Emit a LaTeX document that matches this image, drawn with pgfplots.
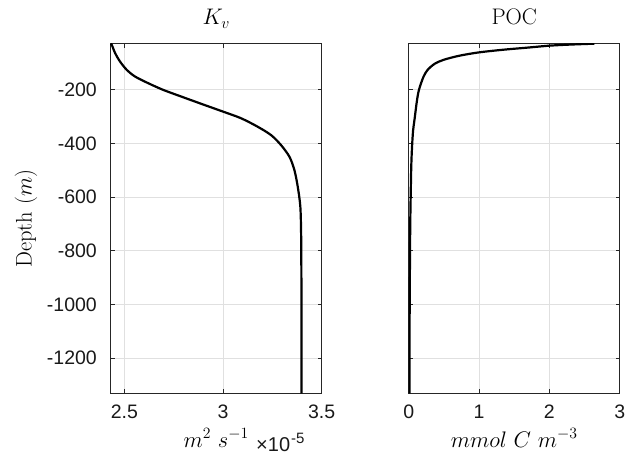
\RequirePackage{fix-cm}
\documentclass[border=0pt]{standalone}
\usepackage{fontspec}
\usepackage{pgfplots}
\pgfplotsset{compat=1.18}
\newfontfamily\helv{Liberation Sans}
\begin{document}
\begin{tikzpicture}
\path[use as bounding box] (0pt,0pt) rectangle (627pt,457pt);
\pgfplotsset{
  mystyle/.style={
    scale only axis, width=211pt, height=349.5pt,
    anchor=south west,
    axis line style={black!85, line width=0.8pt},
    grid=major, grid style={black!12, line width=0.8pt},
    major tick style={black!85, line width=0.8pt},
    major tick length=4pt,
    tick align=inside,
    tick pos=both,
    ticklabel style={font=\helv\fontsize{19.5}{22}\selectfont, text=black!90},
    xticklabel style={anchor=center, yshift=-18.4pt},
    yticklabel style={anchor=east, inner sep=0pt, xshift=-13.7pt},
    ymin=-1332, ymax=-28,
    ytick={-1200,-1000,-800,-600,-400,-200},
    title style={font=\fontsize{22.5}{26}\selectfont, at={(axis description cs:0.5,1)}, anchor=base, yshift=13pt},
    xlabel style={font=\fontsize{22.5}{26}\selectfont, at={(axis description cs:0.5,0)}, anchor=center, yshift=-44.7pt},
    ylabel style={font=\fontsize{22.5}{26}\selectfont, at={(axis description cs:-0.401,0.5)}, anchor=center},
  }
}
\begin{axis}[mystyle, at={(110.7pt,63.7pt)}, xmin=2.431, xmax=3.5,
  xtick={2.5,3,3.5}, xticklabels={2.5,3,3.5},
  yticklabels={{-1200},{-1000},{-800},{-600},{-400},{-200}},
  ylabel={Depth $(m)$}, xlabel={$m^2\ s^{-1}$}, title={$K_v$}, clip=false]
\addplot[black, line width=2.2pt, smooth] coordinates {
(2.431,-28) (2.436,-31) (2.453,-62) (2.478,-94) (2.512,-125) (2.554,-150)
(2.621,-175) (2.697,-200) (2.789,-225) (2.890,-252) (3.000,-281) (3.092,-306)
(3.177,-338) (3.244,-369) (3.294,-406) (3.337,-450) (3.362,-500) (3.379,-563)
(3.392,-638) (3.396,-750) (3.397,-875) (3.398,-1100) (3.398,-1332)};
\node[anchor=base west, inner sep=0pt, text=black!90]
  at ([xshift=145.3pt,yshift=-58.7pt]rel axis cs:0,0)
  {\helv\fontsize{20}{22}\selectfont ×10\kern1pt\raisebox{8pt}{\fontsize{15}{17}\selectfont -5}};
\end{axis}
\begin{axis}[mystyle, at={(408.7pt,63.7pt)}, xmin=0, xmax=3,
  xtick={0,1,2,3}, xticklabels={0,1,2,3},
  yticklabels={},
  xlabel={$mmol\ C\ m^{-3}$}, title={POC}]
\addplot[black, line width=2.2pt, smooth] coordinates {
(2.64,-27.5) (2.29,-31) (2.00,-35) (1.68,-42.5) (1.35,-50) (1.00,-60) (0.72,-72.5)
(0.50,-87.5) (0.37,-102.5) (0.27,-125) (0.212,-150) (0.16,-187.5) (0.135,-212)
(0.112,-250) (0.082,-312) (0.063,-350) (0.050,-400) (0.041,-450) (0.035,-500)
(0.028,-600) (0.022,-700) (0.019,-800) (0.014,-1000) (0.010,-1332)};
\end{axis}
\end{tikzpicture}
\end{document}
